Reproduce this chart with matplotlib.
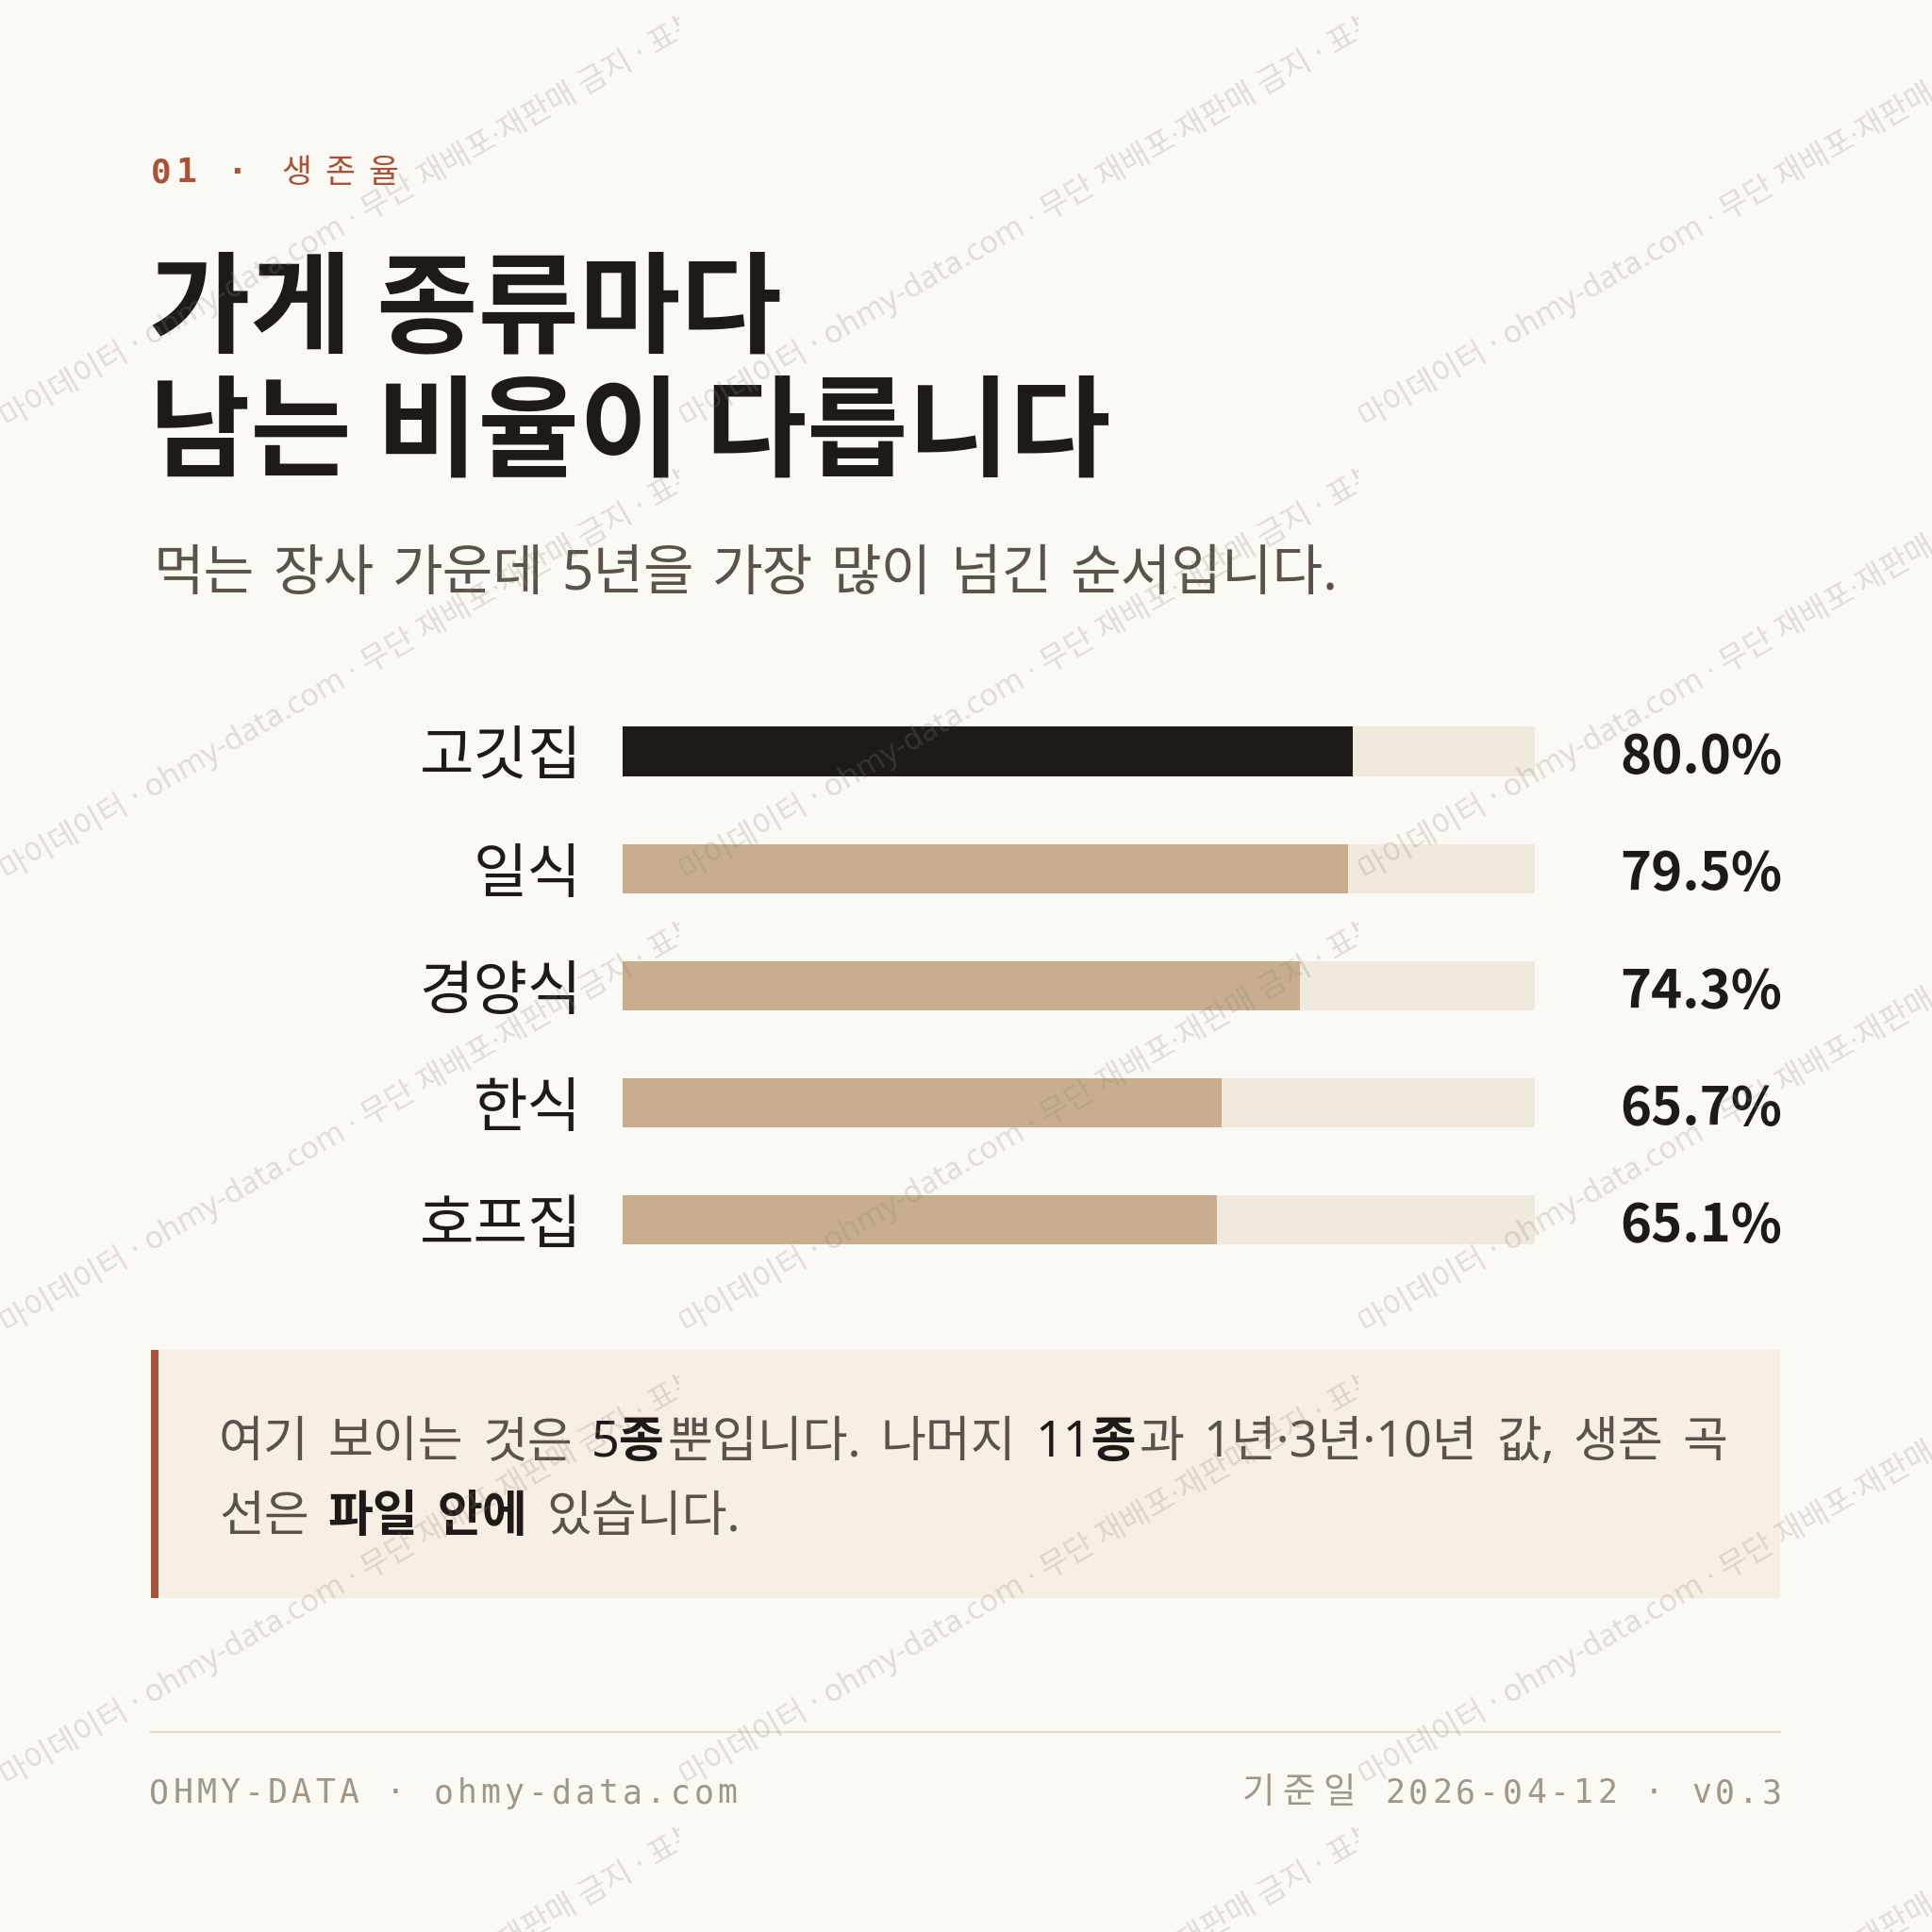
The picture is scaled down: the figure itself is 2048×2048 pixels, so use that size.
import matplotlib
matplotlib.use("Agg")
import matplotlib.pyplot as plt
from matplotlib.patches import Rectangle
from matplotlib.transforms import Bbox, TransformedBbox

plt.rcParams['font.family'] = ['Noto Sans CJK KR', 'DejaVu Sans']

# ---- data ----
categories = ["고깃집", "일식", "경양식", "한식", "호프집"]
survival_5y = [80.0, 79.5, 74.3, 65.7, 65.1]
highlight = "고깃집"

kicker = "01 · 생존율"
title_lines = ["가게 종류마다", "남는 비율이 다릅니다"]
subtitle = "먹는 장사 가운데 5년을 가장 많이 넘긴 순서입니다."
note_line1 = [("여기 보이는 것은 ", False), ("5종", True), ("뿐입니다. 나머지 ", False),
              ("11종", True), ("과 1년·3년·10년 값, 생존 곡", False)]
note_line2 = [("선은 ", False), ("파일 안에", True), (" 있습니다.", False)]
footer_left = "OHMY-DATA · ohmy-data.com"
footer_right = "기준일 2026-04-12 · v0.3"
watermark = "· 마이데이터 · ohmy-data.com · 무단 재배포·재판매 금지 · 표본 데이터"

# ---- colours ----
BG = "#fbf9f4"
DARK = "#1f1a17"
TAN = "#c8ae8e"
TRACK = "#f0e9dd"
ACCENT = "#a8523a"
GREY = "#5b534b"
FOOT = "#a0968a"
NOTE_BG = "#f6efe4"
RULE = "#e3dbcf"

W = 2048
fig = plt.figure(figsize=(20.48, 20.48), dpi=100, facecolor=BG)

# page axes in pixel coordinates (y down)
base = fig.add_axes([0, 0, 1, 1])
base.set_xlim(0, W)
base.set_ylim(W, 0)
base.axis("off")
base.set_facecolor(BG)

renderer = fig.canvas.get_renderer()
latin_first = ["Noto Sans", "Noto Sans CJK KR"]
mono = ["DejaVu Sans Mono", "Noto Sans CJK KR"]


def is_wide(c):
    return ord(c) >= 0x1100


def spaced(x0, y, s, pitch_n, pitch_w, size_w=None, **kw):
    # letter-spaced text, one cell per character
    x = x0
    for c in s:
        p = pitch_w if is_wide(c) else pitch_n
        if c != " ":
            extra = {}
            if is_wide(c) and size_w:
                extra["fontsize"] = size_w
            base.text(x + p / 2, y, c, ha="center", va="baseline", **{**kw, **extra})
        x += p
    return x


def spaced_width(s, pitch_n, pitch_w):
    return sum(pitch_w if is_wide(c) else pitch_n for c in s)


def words_line(x, y, segs, size, gap, color=GREY, tight=3):
    # words placed one by one so the gap between them matches the card
    first = True
    pending = 0
    for s, bold in segs:
        parts = s.split(" ")
        for k, p in enumerate(parts):
            if k > 0:
                pending = gap
            if p == "":
                continue
            if not first:
                x += pending if pending else tight
            t = base.text(x, y, p, fontsize=size, ha="left", va="baseline",
                          family=latin_first,
                          weight="bold" if bold else "normal",
                          color=DARK if bold else color)
            x = t.get_window_extent(renderer).x1
            pending = 0
            first = False


# kicker
spaced(157, 193, kicker[:4], 27, 45.5, family=mono, fontsize=26,
       weight="bold", color=ACCENT)
spaced(157 + 4 * 27, 193, kicker[4:], 27, 45.5, fontsize=25, color=ACCENT)

# title
for i, line in enumerate(title_lines):
    base.text(158, 364 + i * 132, line, fontsize=84, weight="bold", color=DARK,
              ha="left", va="baseline")

# subtitle
words_line(163, 625, [(subtitle, False)], 42, 19)

# ---- bars ----
ax = fig.add_axes([660 / W, 1 - 1355 / W, (1627 - 660) / W, 620.5 / W])
ax.set_zorder(1)
ax.patch.set_alpha(0)
ypos = list(range(len(categories)))
ax.barh(ypos, [100] * len(categories), height=0.42, color=TRACK)
colors = [DARK if c == highlight else TAN for c in categories]
ax.barh(ypos, survival_5y, height=0.42, color=colors)
ax.set_xlim(0, 100)
ax.set_ylim(len(categories) - 0.5, -0.5)
ax.set_yticks(ypos, labels=categories, fontsize=45, color=DARK)
ax.tick_params(axis="y", length=0, pad=31)
ax.set_xticks([])
for sp in ax.spines.values():
    sp.set_visible(False)
for i, v in enumerate(survival_5y):
    ax.annotate(f"{v:.1f}%", xy=(100, i), xytext=(64.8, -4.5),
                textcoords="offset points", ha="left", va="center",
                fontsize=40.5, weight="bold", color=DARK)

# ---- note box ----
base.add_patch(Rectangle((160, 1431), 1727, 263, facecolor=NOTE_BG, edgecolor="none"))
base.add_patch(Rectangle((160, 1431), 8, 263, facecolor=ACCENT, edgecolor="none"))
words_line(232, 1544, note_line1, 37.5, 20)
words_line(232, 1623, note_line2, 37.5, 20)

# ---- footer ----
base.plot([160, 1887], [1836, 1836], color=RULE, lw=1.5)
spaced(156, 1911, footer_left, 25.1, 41, family=mono, fontsize=25, color=FOOT)
rw = spaced_width(footer_right, 25, 43)
spaced(1891 - rw, 1911, footer_right, 25, 43, size_w=27, family=mono,
       fontsize=25, color=FOOT)

# ---- watermark tiles ----
wm = fig.add_axes([0, 0, 1, 1])
wm.set_zorder(5)
wm.set_xlim(0, W)
wm.set_ylim(W, 0)
wm.axis("off")
wm.patch.set_alpha(0)
TW, TH = 720, 480
for tx in range(0, 3):
    for ty in range(0, 5):
        x0, y0 = tx * TW, ty * TH
        t = wm.text(x0 - 12, y0 + 455, watermark, rotation=30, rotation_mode="anchor",
                    ha="left", va="center", fontsize=23.5, family=latin_first,
                    color="#8c8276", alpha=0.24)
        t.set_clip_path(None)
        t.set_clip_box(TransformedBbox(Bbox.from_extents(x0, y0 + TH, x0 + TW, y0),
                                       wm.transData))
        t.set_clip_on(True)

fig.savefig("out.png", dpi=100, facecolor=BG)
